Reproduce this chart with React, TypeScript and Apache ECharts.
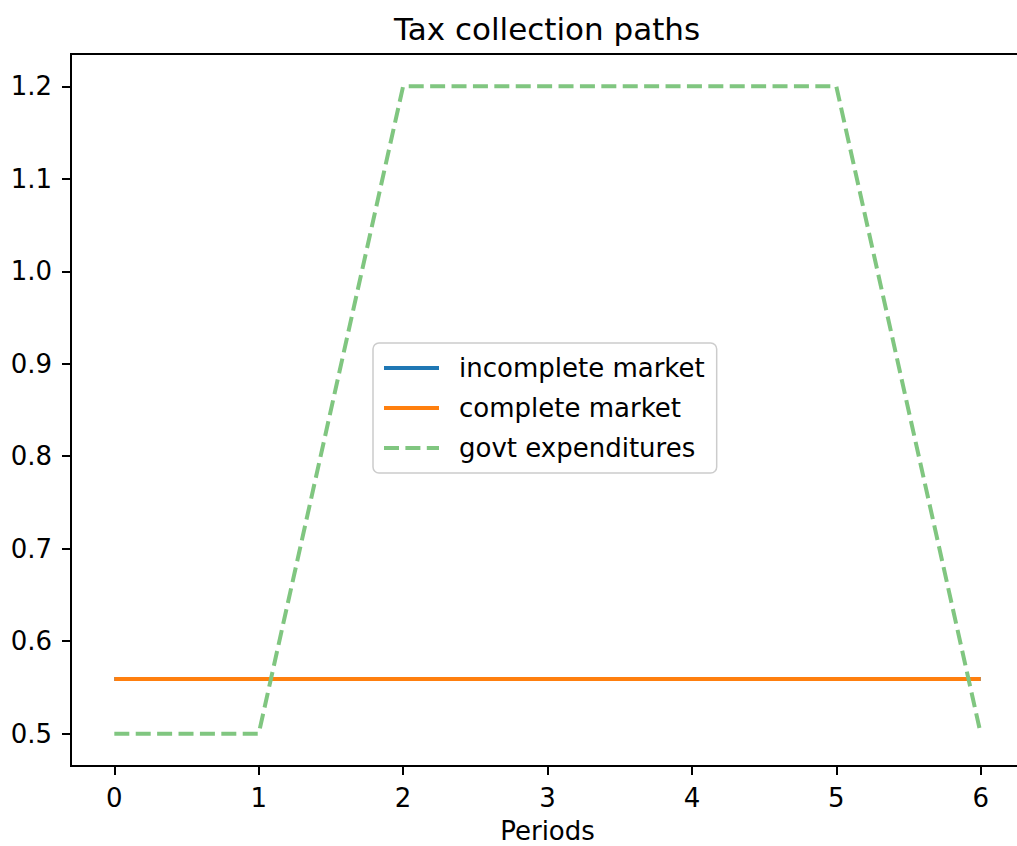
import React, { useEffect, useRef } from "react";
import * as echarts from "echarts";

const periods = [0, 1, 2, 3, 4, 5, 6];
const incompleteMarket = [0.559, 0.559, 0.559, 0.559, 0.559, 0.559, 0.559];
const completeMarket = [0.559, 0.559, 0.559, 0.559, 0.559, 0.559, 0.559];
const govtExpenditures = [0.5, 0.5, 1.2, 1.2, 1.2, 1.2, 0.5];
const xTicks = [0, 1, 2, 3, 4, 5, 6];
const yTicks = [0.5, 0.6, 0.7, 0.8, 0.9, 1.0, 1.1, 1.2];

const FONT = "DejaVu Sans";

export default function App() {
  const ref = useRef<HTMLDivElement>(null);
  useEffect(() => {
    if (!ref.current) return;
    const chart = echarts.init(ref.current, null, { renderer: "svg" });
    const pair = (ys: number[]) => periods.map((p, i) => [p, ys[i]]);
    chart.setOption({
      animation: false,
      backgroundColor: "#ffffff",
      textStyle: { fontFamily: FONT },
      grid: {
        left: 71,
        top: 54,
        width: 953,
        height: 712,
        outerBoundsMode: "none",
        containLabel: false,
        show: true,
        borderColor: "#000",
        borderWidth: 2,
        backgroundColor: "transparent",
      },
      graphic: [
        {
          type: "text",
          x: 547,
          y: 29,
          style: {
            text: "Tax collection paths",
            fontFamily: FONT,
            fontSize: 31,
            fill: "#000",
            textAlign: "center",
            textVerticalAlign: "middle",
          },
        },
      ],
      xAxis: {
        type: "value",
        min: -0.3,
        max: 6.3,
        name: "Periods",
        nameLocation: "middle",
        nameGap: 65,
        nameTextStyle: { fontFamily: FONT, fontSize: 26, color: "#000", verticalAlign: "middle" },
        axisLine: { show: true, onZero: false, lineStyle: { color: "#000", width: 2 } },
        axisTick: { show: true, length: 9, lineStyle: { color: "#000", width: 2 }, customValues: xTicks },
        axisLabel: {
          show: true,
          margin: 19,
          fontFamily: FONT,
          fontSize: 26,
          color: "#000",
          customValues: xTicks,
          formatter: (v: number) => String(v),
        },
        splitLine: { show: false },
      },
      yAxis: {
        type: "value",
        min: 0.465,
        max: 1.235,
        axisLine: { show: true, onZero: false, lineStyle: { color: "#000", width: 2 } },
        axisTick: { show: true, length: 9, lineStyle: { color: "#000", width: 2 }, customValues: yTicks },
        axisLabel: {
          show: true,
          margin: 19,
          fontFamily: FONT,
          fontSize: 26,
          color: "#000",
          customValues: yTicks,
          formatter: (v: number) => v.toFixed(1),
        },
        splitLine: { show: false },
      },
      legend: {
        orient: "vertical",
        left: 373,
        top: 343,
        padding: [12, 12, 12, 9],
        itemWidth: 55,
        itemHeight: 20,
        itemGap: 14,
        backgroundColor: "rgba(255,255,255,0.8)",
        borderColor: "#cccccc",
        borderWidth: 1.5,
        borderRadius: 6,
        itemStyle: { opacity: 0 },
        lineStyle: { width: 4 },
        textStyle: { fontFamily: FONT, fontSize: 26, color: "#000", lineHeight: 26, padding: [0, 0, 0, 15] },
        data: ["incomplete market", "complete market", "govt expenditures"],
      },
      series: [
        {
          name: "incomplete market",
          type: "line",
          data: pair(incompleteMarket),
          symbol: "none",
          lineStyle: { color: "#1f77b4", width: 4 },
          itemStyle: { color: "#1f77b4" },
        },
        {
          name: "complete market",
          type: "line",
          data: pair(completeMarket),
          symbol: "none",
          lineStyle: { color: "#ff7f0e", width: 4 },
          itemStyle: { color: "#ff7f0e" },
        },
        {
          name: "govt expenditures",
          type: "line",
          data: pair(govtExpenditures),
          symbol: "none",
          lineStyle: { color: "#80c680", width: 4, type: [15, 6.4] },
          itemStyle: { color: "#80c680" },
        },
      ],
    });
    return () => chart.dispose();
  }, []);
  return (
    <div
      ref={ref}
      style={{ position: "absolute", left: 0, top: 0, width: 1017, height: 846 }}
    />
  );
}
